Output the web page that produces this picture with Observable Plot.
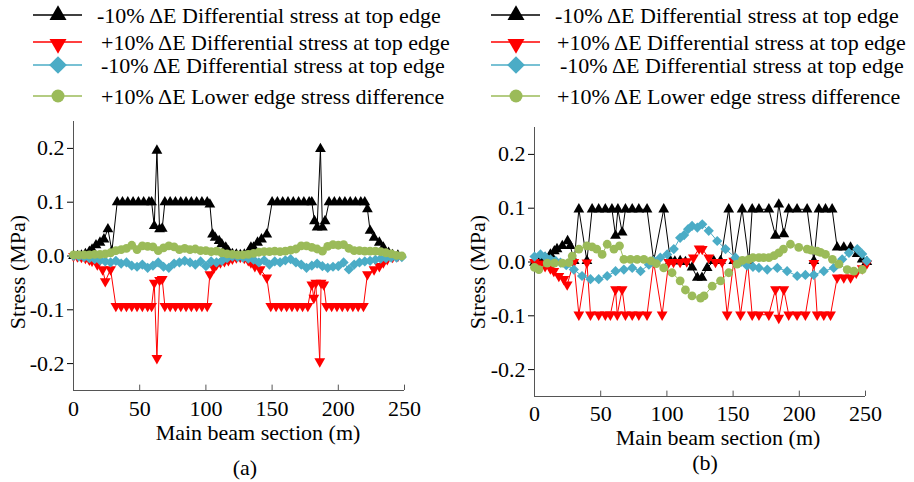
<!DOCTYPE html>
<html><head><meta charset="utf-8">
<script src="https://cdn.jsdelivr.net/npm/d3@7"></script>
<script src="https://cdn.jsdelivr.net/npm/@observablehq/plot@0.6"></script>
<style>
html,body{margin:0;padding:0;background:#fff;}
#wrap{position:relative;width:914px;height:482px;overflow:hidden;font-family:"Liberation Serif","Times New Roman",serif;}
</style></head><body><div id="wrap"></div>
<script>
// ---------- ticks & labels ----------
const xTicks = [0, 50, 100, 150, 200, 250];
const yTicks = [-0.2, -0.1, 0, 0.1, 0.2];
const legendLabels = [
  "-10% \u0394E Differential stress at top edge",
  "+10% \u0394E Differential stress at top edge",
  "-10% \u0394E Differential stress at top edge",
  "+10% \u0394E Lower edge stress difference"
];
const xTitle = "Main beam section (m)";
const yTitle = "Stress (MPa)";
const panelTags = ["(a)", "(b)"];
const seriesColors = ["#000000", "#ff0000", "#4bacc6", "#9bbb59"];

// ---------- panel (a) ----------
const aBlackX = [0,3,6,9,12,14,17,20,23,26,29,33,37,41,45,49,53,57,59,61,63,65,67,69,73,77,81,85,89,93,97,101,103,105,107,110,112,115,117,120,123,126,129,132,134,136,139,142,146,150,154,158,162,166,170,174,178,180,182,184,186.5,188,190,193,197,201,205,209,213,217,220,222,224,227,231,234,238,241,245];
const aBlackY = [0,0,0.001,0.004,0.008,0.012,0.02,0.025,0.031,0.05,0.009,0.1,0.1,0.1,0.1,0.1,0.1,0.1,0.1,0.056,0.196,0.05,0.051,0.1,0.1,0.1,0.1,0.1,0.1,0.1,0.1,0.1,0.096,0.04,0.034,0.028,0.022,0.016,0.009,0.004,0.003,0.002,0.003,0.006,0.016,0.016,0.025,0.031,0.04,0.1,0.1,0.1,0.1,0.1,0.1,0.1,0.1,0.1,0.065,0.053,0.199,0.053,0.065,0.1,0.1,0.1,0.1,0.1,0.1,0.1,0.1,0.087,0.047,0.034,0.025,0.016,0.006,0.002,0.001];

const aRedX = [0,3,6,9,12,14,18,22,24,28,32,36,40,44,48,52,56,59,61,63,65,67,69,73,77,81,85,89,93,97,101,103,106,108,111,114,117,120,123,126,129,132,134,137,141,146,149,153,157,161,165,169,173,177,180,181.5,183,186,187,189,191,195,199,203,207,211,215,219,222,227,231,234,237,241,245];
const aRedY = [0,-0.001,-0.002,-0.004,-0.007,-0.009,-0.016,-0.025,-0.047,-0.025,-0.093,-0.093,-0.093,-0.093,-0.093,-0.093,-0.093,-0.093,-0.05,-0.19,-0.045,-0.043,-0.093,-0.093,-0.093,-0.093,-0.093,-0.093,-0.093,-0.093,-0.093,-0.034,-0.022,-0.016,-0.012,-0.01,-0.008,-0.005,-0.003,-0.002,-0.004,-0.008,-0.012,-0.019,-0.025,-0.04,-0.093,-0.093,-0.093,-0.093,-0.093,-0.093,-0.093,-0.093,-0.053,-0.078,-0.05,-0.196,-0.05,-0.053,-0.093,-0.093,-0.093,-0.093,-0.093,-0.093,-0.093,-0.093,-0.034,-0.025,-0.019,-0.012,-0.006,-0.002,0];

const aBlueX = [0,4,8,12,16,20,24,28,32,36,40,44,48,52,56,60,64,68,72,76,80,84,88,92,96,100,104,108,112,116,120,124,128,132,136,140,144,148,152,156,160,164,168,172,176,180,184,188,192,196,200,204,208,212,216,220,224,228,232,236,240,244,248];
const aBlueY = [0,-0.001,-0.002,-0.004,-0.006,-0.008,-0.01,-0.012,-0.009,-0.014,-0.012,-0.018,-0.02,-0.016,-0.022,-0.018,-0.012,-0.02,-0.022,-0.014,-0.012,-0.009,-0.012,-0.016,-0.01,-0.019,-0.01,-0.012,-0.009,-0.004,-0.001,-0.002,-0.003,-0.005,-0.007,-0.012,-0.008,-0.016,-0.01,-0.012,-0.008,-0.006,-0.012,-0.016,-0.022,-0.018,-0.014,-0.019,-0.022,-0.02,-0.019,-0.012,-0.025,-0.016,-0.012,-0.01,-0.009,-0.007,-0.005,-0.004,-0.003,-0.003,-0.002];

const aGreenX = [0,4,8,12,16,20,24,28,32,36,40,44,48,52,56,60,64,68,72,76,80,84,88,92,96,100,104,108,112,116,120,124,128,132,136,140,144,148,152,156,160,164,168,172,176,180,184,188,192,196,200,204,208,212,216,220,224,228,232,236,240,244,248];
const aGreenY = [0.002,0.002,0.002,0.002,0.003,0.003,0.004,0.006,0.01,0.012,0.014,0.02,0.012,0.019,0.018,0.017,0.01,0.015,0.019,0.017,0.012,0.014,0.012,0.013,0.01,0.01,0.008,0.009,0.006,0.004,0.003,0.002,0.002,0.003,0.005,0.007,0.008,0.008,0.009,0.008,0.009,0.011,0.013,0.019,0.019,0.016,0.013,0.009,0.018,0.021,0.02,0.021,0.014,0.01,0.01,0.009,0.009,0.009,0.008,0.006,0.004,0.001,0];

// ---------- panel (b) ----------
const bBlackX = [0,4,8,12,15,17,21,25,27,30,33.5,39.6,43.5,48.5,53.5,58.5,61.2,63,66.2,68.7,73.8,78.8,85,90,97.6,102.7,106,110,114,119,123,126.5,130.4,135.4,140.5,146.7,150.5,156.8,161.9,164.4,169.5,177,182,184.5,188.3,192,198.3,205.9,211,214.8,219.8,224.8,228.6,233.6,238.7,243.7,247.5,251];
const bBlackY = [-0.001,0.002,0.008,0.014,0.02,0.024,0.03,0.039,0.03,0.002,0.098,0.002,0.098,0.098,0.098,0.098,0.049,0.098,0.055,0.098,0.098,0.098,0.098,0.002,0.098,0.002,0.001,0.002,0,-0.01,-0.029,-0.029,-0.011,0.002,0.002,0.098,0.002,0.098,0.002,0.098,0.098,0.098,0.049,0.107,0.052,0.098,0.098,0.098,0.002,0.098,0.098,0.098,0.027,0.027,0.027,0.015,0.005,0];

const bRedX = [0,4,8,12,14.6,18.4,22.2,24.7,29.7,33.5,39.6,42.3,48.5,53.5,57.3,61.2,62.5,66.2,68.7,73.8,78.8,85,90,96.4,101.4,105,110,115,120,124.3,126.7,131.6,136.7,141.7,145.5,150.5,155.6,161,164.4,169.5,177,182,184.5,188.3,192,198.3,204.6,211,213.5,218.5,223.6,228.6,233.6,238.7,243,247.5,251];
const bRedY = [0,-0.003,-0.008,-0.012,-0.017,-0.026,-0.032,-0.042,0,-0.098,-0.001,-0.098,-0.098,-0.098,-0.098,-0.051,-0.098,-0.051,-0.098,-0.098,-0.098,-0.098,0,-0.098,0,0,0,0.001,0.008,0.025,0.024,0.008,0,0,-0.098,0.002,-0.098,-0.001,-0.098,-0.098,-0.098,-0.051,-0.104,-0.051,-0.098,-0.098,-0.098,-0.002,-0.098,-0.098,-0.098,-0.029,-0.029,-0.029,-0.02,-0.012,-0.003];

const bBlueX = [0,4.5,8,12,16,19.6,24,29.7,35.9,42.3,48.5,54.9,61.2,67.5,73.8,80.1,86.4,90,95,100.2,105.2,110,113,116,119,123,126.7,131.6,138,144.3,151.8,156,160.6,165,169.5,175.8,183.4,190.8,198.4,204.6,210.9,218.5,226,232.4,237.5,243.8,247.5,251];
const bBlueY = [0.01,0.014,0.01,0.005,0.002,-0.001,-0.006,-0.014,-0.026,-0.032,-0.032,-0.026,-0.017,-0.014,-0.011,-0.017,-0.005,0.002,0.008,0.014,0.024,0.045,0.05,0.061,0.067,0.064,0.07,0.058,0.039,0.024,0.008,0,-0.007,-0.009,-0.011,-0.014,-0.011,-0.017,-0.026,-0.024,-0.024,-0.017,-0.011,0.005,0.017,0.024,0.015,0.002];

const bGreenX = [0,3.3,9.6,15,21,26,28.5,33.5,39.6,43.5,47,51.1,54.9,60,64.2,67.5,72.5,77.5,82.6,88,92,97.6,103.9,110,114,119,125.4,128,134.2,140.5,146.7,153,157,161.9,165,169.5,173,177,181,184.5,188,193.3,199.6,205.9,209,213.5,216,219.8,225,229.9,236.2,241.2,247.5];
const bGreenY = [-0.01,-0.014,-0.002,-0.002,-0.002,-0.001,0.011,0.024,0.03,0.028,0.024,0.014,0.033,0.024,0.03,0.005,0.005,0.005,0.005,0.002,-0.003,-0.011,-0.02,-0.035,-0.052,-0.063,-0.067,-0.063,-0.045,-0.035,-0.02,-0.004,0.003,0.005,0.008,0.008,0.008,0.008,0.012,0.017,0.024,0.033,0.027,0.024,0.022,0.02,0.018,0.014,0.005,-0.004,-0.014,-0.017,-0.014];

// ---------- helpers ----------
const zipXY = (xs, ys) => xs.map((x, i) => ({x, y: ys[i]}));
const triangleDown = {
  draw(ctx, size) {
    const s3 = Math.sqrt(3);
    const y = -Math.sqrt(size / (s3 * 3));
    ctx.moveTo(0, -y * 2);
    ctx.lineTo(-s3 * y, y);
    ctx.lineTo(s3 * y, y);
    ctx.closePath();
  }
};
const symbols = ["triangle", triangleDown, "diamond2", "circle"];
const radii = [4, 4, 4.6, 4.4];

const wrap = document.getElementById("wrap");

function panel(series, m, left, tickPad) {
  const marks = [
    Plot.ruleY([-0.25], {stroke: "#555"}),
    Plot.ruleX([0], {stroke: "#555"}),
    Plot.ruleX(xTicks, {y1: -0.25, y2: -0.24, stroke: "#555"}),
    Plot.axisY({ticks: yTicks, tickFormat: d => d.toFixed(1), tickSize: 6, tickPadding: 3, label: null}),
    Plot.axisX({ticks: xTicks, tickFormat: d => String(d), tickSize: 0, tickPadding: tickPad, label: null})
  ];
  series.forEach((data, i) => {
    marks.push(Plot.line(data, {x: "x", y: "y", stroke: seriesColors[i], strokeWidth: 1}));
    marks.push(Plot.dot(data, {x: "x", y: "y", symbol: symbols[i], r: radii[i], fill: seriesColors[i], stroke: "none"}));
  });
  const svg = Plot.plot({
    width: 457, height: 482,
    marginLeft: m[0], marginRight: m[1], marginTop: m[2], marginBottom: m[3],
    x: {domain: [0, 250]},
    y: {domain: [-0.25, 0.25]},
    style: {fontFamily: '"Liberation Serif", "Times New Roman", serif', fontSize: "22px", color: "#000", background: "transparent", overflow: "visible"},
    marks
  });
  svg.style.position = "absolute";
  svg.style.left = left + "px";
  svg.style.top = "0px";
  wrap.appendChild(svg);
}

panel([zipXY(aBlackX, aBlackY), zipXY(aRedX, aRedY), zipXY(aBlueX, aBlueY), zipXY(aGreenX, aGreenY)],
      [73, 53, 121, 92], 0, 10);
panel([zipXY(bBlackX, bBlackY), zipXY(bRedX, bRedY), zipXY(bBlueX, bBlueY), zipXY(bGreenX, bGreenY)],
      [77, 49, 127, 86], 457, 9);

// ---------- overlay: legends & titles ----------
const ov = d3.select(wrap).append("svg")
  .attr("width", 914).attr("height", 482)
  .style("position", "absolute").style("left", "0px").style("top", "0px")
  .style("font-family", '"Liberation Serif", "Times New Roman", serif')
  .style("font-size", "22px");

const rowY = [15, 42, 65, 96];
const legSizes = [125, 125, 200, 133];
const legSymbolTypes = [d3.symbolTriangle, triangleDown, d3.symbolDiamond2, d3.symbolCircle];
const legends = [
  {lineX: [33, 82], markX: 58, textX: [97, 101, 101, 101]},
  {lineX: [491, 540], markX: 516, textX: [555, 557, 560, 557]}
];
legends.forEach(L => {
  legendLabels.forEach((lab, i) => {
    const g = ov.append("g");
    g.append("line").attr("x1", L.lineX[0]).attr("x2", L.lineX[1]).attr("y1", rowY[i]).attr("y2", rowY[i])
      .attr("stroke", seriesColors[i]).attr("stroke-width", 1.5);
    g.append("path").attr("d", d3.symbol().type(legSymbolTypes[i]).size(legSizes[i])())
      .attr("transform", `translate(${L.markX},${rowY[i] + (i === 1 ? 2 : 0)})`)
      .attr("fill", seriesColors[i]);
    g.append("text").attr("x", L.textX[i]).attr("y", rowY[i]).attr("dy", "0.35em").attr("fill", "#000").text(lab);
  });
});

// axis titles
[[258, 432, 17, 272, 245, 467], [718, 437, 477, 272, 705, 462]].forEach((p, k) => {
  ov.append("text").attr("x", p[0]).attr("y", p[1]).attr("dy", "0.35em").attr("text-anchor", "middle").text(xTitle);
  ov.append("text").attr("transform", `translate(${p[2]},${p[3]}) rotate(-90)`).attr("dy", "0.35em").attr("text-anchor", "middle").text(yTitle);
  ov.append("text").attr("x", p[4]).attr("y", p[5]).attr("dy", "0.35em").attr("text-anchor", "middle").text(panelTags[k]);
});
</script></body></html>
